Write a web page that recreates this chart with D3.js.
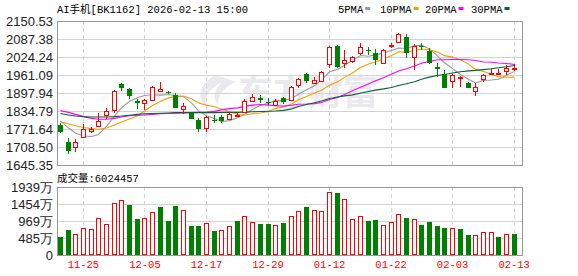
<!DOCTYPE html>
<html>
<head>
<meta charset="utf-8">
<script src="https://cdn.jsdelivr.net/npm/d3@7"></script>
<style>
  body { margin: 0; background: #fff; }
</style>
</head>
<body>
<div id="chart"></div>
<script>
// trading days shown on the chart
const dates = ["11-20","11-21","11-24","11-25","11-26","11-27","11-28","12-01","12-02","12-03",
  "12-04","12-05","12-08","12-09","12-10","12-11","12-12","12-15","12-16","12-17",
  "12-18","12-19","12-22","12-23","12-24","12-25","12-26","12-29","12-30","12-31",
  "01-05","01-06","01-07","01-08","01-09","01-12","01-13","01-14","01-15","01-16",
  "01-19","01-20","01-21","01-22","01-23","01-26","01-27","01-28","01-29","01-30",
  "02-02","02-03","02-04","02-05","02-06","02-09","02-10","02-11","02-12","02-13"];

const open = [1785.7,1725,1707.4,1744.7,1765,1781,1819.5,1838,1930,1912,
  1871,1864,1873,1906,1901,1891,1840.7,1829,1803,1774,
  1803,1812.7,1807.7,1819,1830,1871,1879,1867.5,1855,1879,
  1875,1926,1964.6,1934,1940,2000,2063,2002,2010,2037.5,
  2049,2037.5,2002,2063,2076,2095,2025,2063,2045,1988,
  1963.5,1940,1952,1932,1905,1945.6,1964,1964,1975,1984];
const high = [1792,1741,1735.5,1788,1780,1827,1844,1908,1934,1914.4,
  1876,1876,1922,1936.5,1906,1897,1864,1832,1809,1818,
  1822,1820.6,1832,1832,1876,1893,1891,1879,1876,1885,
  1924,1949.5,1967,1955,1975,2063,2066,2049,2029,2072,
  2060,2052,2052,2072,2107,2104,2069,2072,2057,2002,
  1979,1963.5,1958,1938,1934,1963.5,1984,1982,1996,1998];
const low = [1758,1683,1692,1742.5,1757,1780,1806,1827,1906,1876,
  1841,1838,1871,1903,1893,1844,1823,1805.5,1762,1762,
  1793,1794,1803,1813,1827,1867,1862,1856,1852,1858,
  1872,1914,1932,1930,1935.5,1985,1985,1987,2002,2031,
  2031,1996,1998,2057,2072,2022,1978.5,2049,2000,1953,
  1914,1916.5,1920,1914,1886,1935.5,1961,1961,1961,1975];
const close = [1762.2,1695.5,1725,1770.6,1772,1800,1834.7,1905,1917,1887.4,
  1864,1872,1918,1910.5,1899,1846,1852,1808,1770.6,1812.7,
  1798,1800,1824,1822,1871,1883,1873,1862,1871,1867,
  1920,1947,1940,1944,1970,2060,1990,2014,2025,2058.5,
  2046.5,2014,2049,2066.5,2104,2037,2063,2058,2002,1981,
  1916.5,1961,1954,1916.5,1918,1961,1968,1967.5,1987,1985.5];
const prevClose = 1790;

const ma5 = [1800,1775,1758,1747,1745.1,1752.6,1780.5,1816.5,1845.7,1868.8,
  1881.6,1889.1,1891.7,1890.4,1892.7,1889.1,1885.1,1863.1,1835.1,1817.9,
  1808.3,1797.9,1801.1,1811.3,1823,1840,1854.6,1862.2,1872,1871.2,
  1878.6,1893.4,1909,1923.6,1944.2,1972.2,1980.8,1995.6,2011.8,2029.5,
  2026.8,2031.6,2038.6,2046.9,2056,2054.1,2063.9,2065.7,2052.8,2028.2,
  2004.1,1983.7,1962.9,1945.8,1933.2,1942.1,1943.5,1946.2,1960.3,1973.8];
const ma10 = [1797,1790,1783,1777,1773,1771,1775,1786,1796,1807,
  1817.1,1834.8,1854.1,1868.1,1880.8,1885.4,1887.1,1877.4,1862.8,1855.3,
  1849.7,1841.6,1832.2,1823.5,1820.9,1825.4,1827.6,1833.1,1843.2,1848.7,
  1859.7,1874.4,1886,1897.9,1907.8,1925.2,1937.3,1952.7,1968.1,1987.3,
  1999.9,2006.6,2016.9,2029.4,2042.8,2040.5,2047.8,2052.2,2049.9,2042.1,
  2029.1,2023.8,2014.3,1999.3,1980.7,1973.1,1963.6,1954.6,1953,1953.5];
const ma20 = [1836,1830,1823,1815,1809,1806,1806,1809,1814,1818,
  1820,1821,1823,1825,1826,1827,1828,1829,1830,1831.2,
  1833.4,1838.7,1843.2,1845.8,1850.9,1855.4,1857.4,1855.3,1853,1852,
  1854.8,1858.6,1859.1,1860.7,1864.3,1875.3,1882.5,1893,1905.7,1918,
  1929.8,1940.5,1951.4,1963.5,1975.3,1982.9,1992.6,2002.5,2009,2014.7,
  2014.5,2015.2,2015.6,2014.4,2011.8,2006.8,2005.7,2003.4,2001.5,1997.8];
const ma30 = [1826,1821,1817,1815,1814,1814,1814,1815,1817,1820,
  1823,1825,1826,1827,1828,1829,1829,1829,1829,1829,
  1829,1830,1830,1830,1831,1832,1833,1834,1835,1837,
  1842.2,1850.6,1857.8,1863.7,1870.2,1878.8,1884,1887.8,1891.4,1897.1,
  1903.2,1907.9,1912.3,1917.5,1924.3,1930.7,1937.7,1946,1953.7,1959.4,
  1962.9,1968.3,1972.6,1975.6,1977.2,1979.8,1983,1986.5,1990.3,1994.3];

// volume in 万 (10k shares)
const volume = [511,710,596,757,729,1041,880,1496,1581,1420,
  1022,1041,1240,1363,966,1392,1297,824,824,899,
  682,701,814,966,1098,928,880,880,843,909,
  1098,1250,1363,1297,1268,1808,1761,1609,1013,1108,
  966,994,852,937,1183,1051,1022,862,937,824,
  767,757,738,568,558,644,644,511,596,602.4];

const priceTicks = [1645.35,1708.50,1771.64,1834.79,1897.94,1961.09,2024.24,2087.38,2150.53];
const volTicks = [0,485,969,1454,1939];
const dateTicks = ["11-25","12-05","12-17","12-29","01-12","01-22","02-03","02-13"];

const maNames = ["5PMA","10PMA","20PMA","30PMA"];
const maColors = ["#999999","#f0a000","#ff00ff","#006633"];
const maSeries = [ma5, ma10, ma20, ma30];

const width = 578, height = 276;
const left = 57, right = 522;
const pTop = 21, pBottom = 165;
const vTop = 187, vBottom = 255;
const RED = "#ff0000", GREEN = "#008000";
const monoFont = "'Liberation Mono','DejaVu Sans Mono','Noto Sans CJK SC',monospace";
const axisFont = "Arial,'Liberation Sans',sans-serif";

const svg = d3.select("#chart").append("svg")
    .attr("width", width)
    .attr("height", height)
    .style("display", "block");

const x = d3.scaleBand().domain(dates).range([56.5, 518]).padding(0);
const cx = d => Math.floor(x(d) + x.bandwidth() / 2);
const y = d3.scaleLinear().domain([priceTicks[0], priceTicks[priceTicks.length - 1]]).range([pBottom, pTop]);
const yv = d3.scaleLinear().domain([0, 1939]).range([vBottom, vTop]);

// watermark
const wm = svg.append("g").attr("fill", "#e9e9ee");
wm.append("path")
    .attr("d", "M214,76 C200,84 196,98 206,106 C204,96 210,88 222,82 C214,90 212,98 218,104 C218,94 226,86 236,82 C226,78 220,76 214,76 Z");
wm.append("text")
    .attr("x", 238).attr("y", 105)
    .attr("font-family", "'Noto Sans CJK SC',sans-serif")
    .attr("font-weight", "bold")
    .attr("font-size", 35)
    .text("东方财富");

// grid lines
const grid = svg.append("g").attr("stroke", "#d3d3d3").attr("shape-rendering", "crispEdges");
grid.selectAll(".hp").data(priceTicks.slice(1, -1)).enter().append("line")
    .attr("x1", left).attr("x2", right)
    .attr("y1", d => Math.round(y(d)) + 0.5).attr("y2", d => Math.round(y(d)) + 0.5);
grid.selectAll(".hv").data(volTicks.slice(1, -1)).enter().append("line")
    .attr("x1", left).attr("x2", right)
    .attr("y1", d => Math.round(yv(d)) + 0.5).attr("y2", d => Math.round(yv(d)) + 0.5);
dateTicks.forEach(t => {
    [[pTop, pBottom], [vTop, vBottom]].forEach(([a, b]) => {
        grid.append("line")
            .attr("x1", cx(t) + 0.5).attr("x2", cx(t) + 0.5)
            .attr("y1", a).attr("y2", b)
            .attr("stroke-dasharray", "4,3");
    });
});

// moving averages
maSeries.forEach((s, k) => {
    const line = d3.line()
        .x((d, i) => cx(dates[i]) + 0.5)
        .y(d => y(d));
    svg.append("path")
        .datum(s)
        .attr("fill", "none")
        .attr("stroke", maColors[k])
        .attr("stroke-width", 1.1)
        .attr("d", line);
});

// candles
const idx = d3.range(dates.length);
const candles = svg.append("g").attr("shape-rendering", "crispEdges");
candles.selectAll(".wick").data(idx).enter().append("line")
    .attr("x1", i => cx(dates[i]) + 0.5)
    .attr("x2", i => cx(dates[i]) + 0.5)
    .attr("y1", i => Math.round(y(high[i])))
    .attr("y2", i => Math.round(y(low[i])))
    .attr("stroke", i => close[i] >= open[i] ? RED : GREEN);
candles.selectAll(".body").data(idx).enter().append("rect")
    .attr("x", i => close[i] >= open[i] ? cx(dates[i]) - 1.5 : cx(dates[i]) - 2)
    .attr("width", i => close[i] >= open[i] ? 4 : 5)
    .attr("y", i => {
        const t = Math.round(y(Math.max(open[i], close[i])));
        return close[i] >= open[i] ? t + 0.5 : t;
    })
    .attr("height", i => {
        const h = Math.round(y(Math.min(open[i], close[i]))) - Math.round(y(Math.max(open[i], close[i])));
        return close[i] >= open[i] ? Math.max(h, 1) : Math.max(h, 1);
    })
    .attr("fill", i => close[i] >= open[i] ? "#fff" : GREEN)
    .attr("stroke", i => close[i] >= open[i] ? RED : "none");

// volume bars, coloured by close vs previous close
const volUp = i => close[i] >= (i === 0 ? prevClose : close[i - 1]);
svg.append("g").attr("shape-rendering", "crispEdges")
    .selectAll("rect").data(idx).enter().append("rect")
    .attr("x", i => volUp(i) ? cx(dates[i]) - 1.5 : cx(dates[i]) - 2)
    .attr("width", i => volUp(i) ? 4 : 5)
    .attr("y", i => Math.round(yv(volume[i])) + (volUp(i) ? 0.5 : 0))
    .attr("height", i => vBottom - Math.round(yv(volume[i])) - (volUp(i) ? 1 : 0))
    .attr("fill", i => volUp(i) ? "#fff" : GREEN)
    .attr("stroke", i => volUp(i) ? RED : "none");

// frames
const frame = svg.append("g").attr("fill", "none").attr("stroke", "#999").attr("shape-rendering", "crispEdges");
frame.append("rect").attr("x", left + 0.5).attr("y", pTop + 0.5).attr("width", right - left).attr("height", pBottom - pTop);
frame.append("rect").attr("x", left + 0.5).attr("y", vTop + 0.5).attr("width", right - left).attr("height", vBottom - vTop);

// axes
const yAxis = svg.append("g")
    .attr("transform", `translate(${left},0)`)
    .call(d3.axisLeft(y).tickValues(priceTicks).tickFormat(d3.format(".2f")).tickSize(0).tickPadding(4));
const vAxis = svg.append("g")
    .attr("transform", `translate(${left},0)`)
    .call(d3.axisLeft(yv).tickValues(volTicks).tickFormat(d => d === 0 ? "0" : d + "万").tickSize(0).tickPadding(4));
[yAxis, vAxis].forEach(a => {
    a.select(".domain").remove();
    a.selectAll("text").attr("font-family", axisFont).attr("font-size", 13).attr("fill", "#222");
});

const xAxis = svg.append("g")
    .attr("transform", `translate(0,${vBottom})`)
    .call(d3.axisBottom(x).tickValues(dateTicks).tickSize(0).tickPadding(6));
xAxis.select(".domain").remove();
xAxis.selectAll("text").attr("font-family", monoFont).attr("font-size", 10.5).attr("fill", RED);

// title, volume caption and legend
svg.append("text")
    .attr("x", left).attr("y", 12.5)
    .attr("font-family", monoFont).attr("font-size", 10.5).attr("fill", "#000")
    .text("AI手机[BK1162] 2026-02-13 15:00");
svg.append("text")
    .attr("x", left).attr("y", 182)
    .attr("font-family", monoFont).attr("font-size", 10.5).attr("fill", "#000")
    .text("成交量:6024457");

const legendX = [338, 380, 425, 471];
const legend = svg.append("g");
maNames.forEach((n, k) => {
    const t = legend.append("text")
        .attr("x", legendX[k]).attr("y", 12.5)
        .attr("font-family", monoFont).attr("font-size", 10.5).attr("fill", "#000")
        .text(n);
    const w = t.node().getComputedTextLength();
    legend.append("rect")
        .attr("x", legendX[k] + w + 2).attr("y", 7)
        .attr("width", 5).attr("height", 3)
        .attr("fill", maColors[k]);
});
</script>
</body>
</html>
